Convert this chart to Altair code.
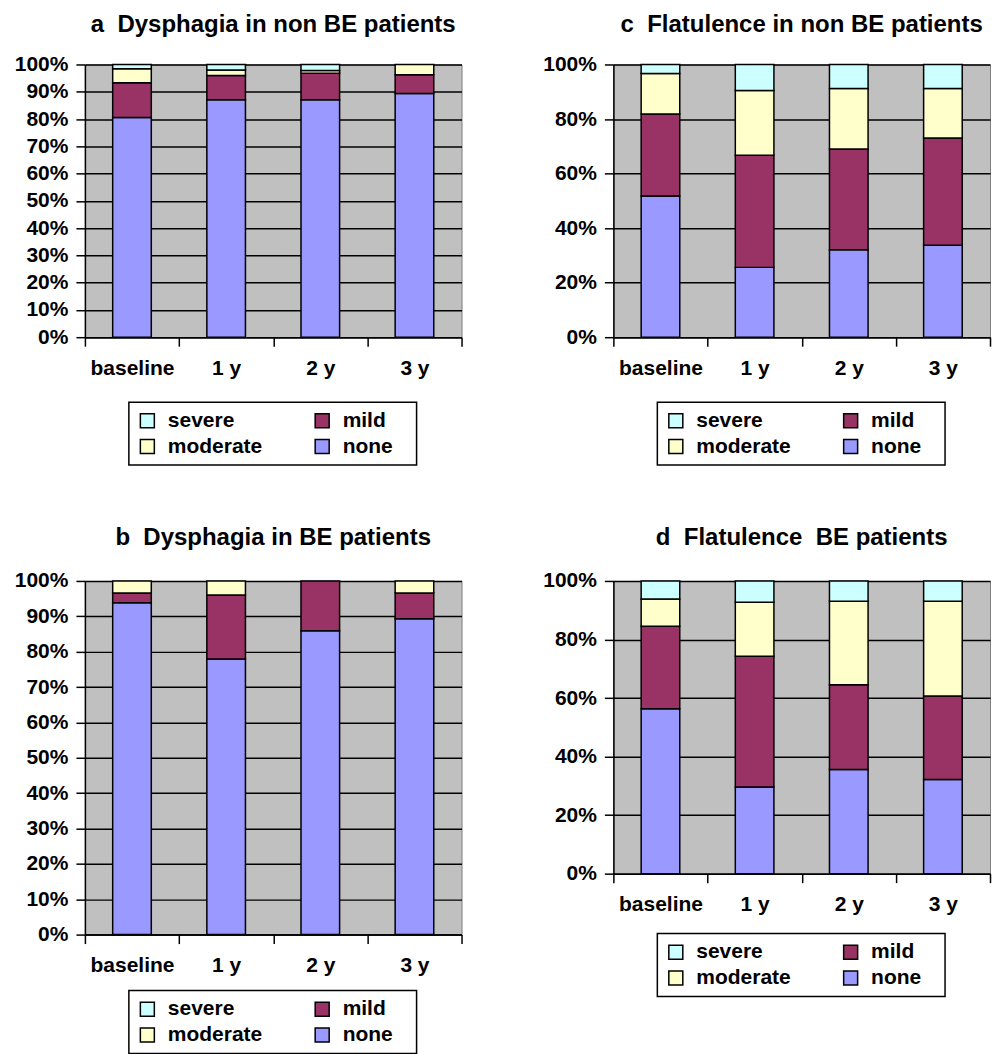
import altair as alt
import pandas as pd

# Time points on the x axis
periods = ["baseline", "1 y", "2 y", "3 y"]

# Symptom grades: legend order (read across two columns) and colours
levels = ["severe", "mild", "moderate", "none"]
level_colors = ["#CCFFFF", "#993366", "#FFFFCC", "#9999FF"]
# Stacking order from the bottom of each bar upwards
stack_rank = {"none": 0, "mild": 1, "moderate": 2, "severe": 3}

# a  Dysphagia in non BE patients (% of patients)
a_none = [80.6, 87.1, 87.1, 89.4]
a_mild = [12.7, 8.9, 9.7, 6.8]
a_moderate = [5.1, 2.0, 1.0, 3.8]
a_severe = [1.6, 2.0, 2.2, 0.0]

# b  Dysphagia in BE patients
b_none = [93.8, 77.9, 85.9, 89.3]
b_mild = [2.8, 18.1, 14.1, 7.3]
b_moderate = [3.4, 4.0, 0.0, 3.4]
b_severe = [0.0, 0.0, 0.0, 0.0]

# c  Flatulence in non BE patients
c_none = [51.8, 25.6, 32.1, 33.7]
c_mild = [30.0, 41.1, 36.9, 39.3]
c_moderate = [14.9, 23.8, 22.2, 18.2]
c_severe = [3.3, 9.5, 8.8, 8.8]

# d  Flatulence BE patients
d_none = [56.3, 29.6, 35.6, 32.2]
d_mild = [28.2, 44.7, 28.9, 28.5]
d_moderate = [9.3, 18.4, 28.6, 32.4]
d_severe = [6.2, 7.3, 6.9, 6.9]

FONT = "Liberation Sans"
PLOT_W = 377
NBSP = "\u00a0"
# blank glyph that is not trimmed as whitespace: widens the right legend column
BLANK = "\u2800"


def long_table(none, mild, moderate, severe):
    rows = []
    for level, values in (("none", none), ("mild", mild),
                          ("moderate", moderate), ("severe", severe)):
        for period, pct in zip(periods, values):
            if pct > 0:
                rows.append({"period": period, "level": level,
                             "rank": stack_rank[level], "pct": pct})
    return pd.DataFrame(rows)


def panel(df, title, step, height, legend_gap, title_offset):
    return (
        alt.Chart(df)
        .mark_bar(width=alt.RelativeBandSize(0.41), stroke="black", strokeWidth=1.5)
        .encode(
            x=alt.X(
                "period:N",
                sort=periods,
                scale=alt.Scale(domain=periods, paddingInner=0, paddingOuter=0),
                axis=alt.Axis(
                    title=None, labelAngle=0, tickBand="extent", grid=False,
                    tickSize=9, labelPadding=11,
                ),
            ),
            y=alt.Y(
                "pct:Q",
                stack="zero",
                scale=alt.Scale(domain=[0, 100], nice=False),
                axis=alt.Axis(
                    title=None, values=list(range(0, 101, step)),
                    labelExpr="datum.value + '%'", grid=True,
                    tickSize=9, labelPadding=8, minExtent=72, maxExtent=72,
                ),
            ),
            color=alt.Color(
                "level:N",
                scale=alt.Scale(domain=levels, range=level_colors),
                legend=alt.Legend(
                    title=None, orient="none", direction="horizontal",
                    columns=2, legendX=44, legendY=height + legend_gap,
                    labelExpr="datum.label == 'none' ? 'none" + BLANK + "' : datum.label",
                    symbolType="square", symbolSize=196,
                    symbolStrokeColor="black", symbolStrokeWidth=1.5,
                ),
            ),
            order=alt.Order("rank:Q"),
        )
        .properties(
            width=PLOT_W,
            height=height,
            title=alt.TitleParams(title, offset=title_offset),
        )
    )


chart_a = panel(long_table(a_none, a_mild, a_moderate, a_severe),
                "a" + NBSP + " Dysphagia in non BE patients", 10, 273, 65, 17)
chart_c = panel(long_table(c_none, c_mild, c_moderate, c_severe),
                "c" + NBSP + " Flatulence in non BE patients", 20, 273, 65, 17)
chart_b = panel(long_table(b_none, b_mild, b_moderate, b_severe),
                "b" + NBSP + " Dysphagia in BE patients", 10, 354, 56, 20)
chart_d = panel(long_table(d_none, d_mild, d_moderate, d_severe),
                "d" + NBSP + " Flatulence" + NBSP + " BE patients", 20, 293, 60, 20)

top_row = (
    alt.hconcat(chart_a, chart_c, spacing=77)
    .resolve_scale(x="independent", y="independent", color="independent")
    .resolve_legend(color="independent")
)
bottom_row = (
    alt.hconcat(chart_b, chart_d, spacing=77)
    .resolve_scale(x="independent", y="independent", color="independent")
    .resolve_legend(color="independent")
)

chart = (
    alt.vconcat(top_row, bottom_row, spacing=58)
    .resolve_scale(x="independent", y="independent", color="independent")
    .resolve_legend(color="independent")
    .properties(padding={"left": 12, "top": 11, "right": 0, "bottom": 0})
    .configure(font=FONT)
    .configure_view(fill="#C0C0C0", stroke="#808080", strokeWidth=1)
    .configure_axis(
        labelFont=FONT, labelFontSize=21, labelFontWeight="bold", labelColor="black",
        domainColor="black", domainWidth=1.5, tickColor="black", tickWidth=1.5,
        gridColor="black", gridWidth=1.5, gridOpacity=1,
    )
    .configure_title(font=FONT, fontSize=24, fontWeight="bold", color="black", anchor="middle")
    .configure_legend(
        labelFont=FONT, labelFontSize=21, labelFontWeight="bold", labelColor="black",
        symbolOpacity=1, labelOffset=10,
        columnPadding=49, rowPadding=4, padding=8,
        strokeColor="black", strokeWidth=1.5, fillColor="white",
    )
)

chart.save("out.html", embed_options={"renderer": "svg", "actions": False})
